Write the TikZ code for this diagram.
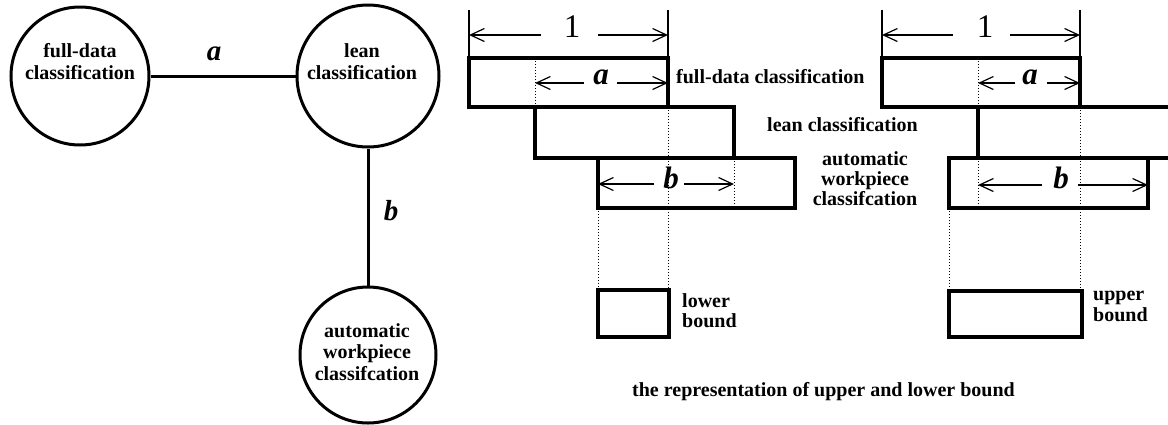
\documentclass[tikz,border=0pt]{standalone}
\usepackage{fontspec}
\setmainfont{Liberation Serif}
\usetikzlibrary{arrows.meta}
\begin{document}
\begin{tikzpicture}[x=1pt,y=-1pt,
  circ/.style={circle,draw,line width=3pt,inner sep=0pt},
  lbl/.style={font=\fontsize{20}{22}\selectfont\bfseries,align=center,inner sep=0pt},
  lbll/.style={font=\fontsize{20}{21}\selectfont\bfseries,align=left,inner sep=0pt},
  conn/.style={line width=3pt},
  bx/.style={line width=3.4pt,line join=miter},
  dots/.style={dotted,line width=1pt},
  tick/.style={line width=1.2pt},
  dim/.style={line width=1.2pt,-{Straight Barb[length=14pt,width=13pt,line width=1.2pt]}},
  varl/.style={font=\fontsize{29}{29}\selectfont\bfseries\itshape,inner sep=0pt},
  var/.style={font=\fontsize{31}{31}\selectfont\bfseries\itshape,inner sep=0pt},
  one/.style={font=\fontsize{33}{33}\selectfont,inner sep=0pt},
]
\useasboundingbox (0,0) rectangle (1168,424);

% ---------- left graph ----------
\node[circ,minimum size=138pt] (full) at (80,76) {};
\node[circ,minimum size=142pt] (lean) at (368,76) {};
\node[circ,minimum size=136pt] (auto) at (368,355) {};
\node[lbl,anchor=north] (fullT) at (80,43) {full-data\\classification};
\node[lbl,anchor=north] (leanT) at (362,43) {lean\\classification};
\node[lbl,anchor=north,font=\fontsize{20}{21.5}\selectfont\bfseries] (autoT) at (367,323) {automatic\\workpiece\\classifcation};
\draw[conn] (full.east) -- (lean.west);
\draw[conn] (lean.south) -- (auto.north);
\node[varl,anchor=base] (la) at (214,60) {a};
\node[varl,anchor=base] (lb) at (391,220) {b};

% ---------- right diagram 1 (lower bound) ----------
\draw[bx] (469,58) rectangle (668,107);
\draw[bx] (535,107) rectangle (734,158);
\draw[bx] (598,158) rectangle (795,208);
\draw[bx] (598,290) rectangle (669,337);
\draw[tick] (469,10) -- (469,58);
\draw[tick] (668,10) -- (668,58);
\node[one,anchor=base] (one1) at (572,37) {1};
\draw[dim] (541,35) -- (469,35);
\draw[dim] (598,35) -- (668,35);
\draw[dots] (535,58) -- (535,107);
\draw[dots] (668,107) -- (668,290);
\draw[dots] (734,158) -- (734,208);
\draw[dots] (598,208) -- (598,290);
\node[var,anchor=base] (a1) at (601,84) {a};
\draw[dim] (584,83) -- (535,83);
\draw[dim] (617,83) -- (668,83);
\node[var,anchor=base] (b1) at (671,188) {b};
\draw[dim] (654,184) -- (598,184);
\draw[dim] (684,184) -- (734,184);
\node[lbll,anchor=base west] (fdc) at (676,83) {full-data classification};
\node[lbll,anchor=base west] (lc) at (767,131) {lean classification};
\node[lbl,anchor=north,font=\fontsize{20}{20}\selectfont\bfseries] (awc) at (865,151) {automatic\\workpiece\\classifcation};
\node[lbll,anchor=north west,font=\fontsize{20}{20}\selectfont\bfseries] (lbd) at (682,293) {lower\\bound};

% ---------- right diagram 2 (upper bound) ----------
\draw[bx] (882,58) rectangle (1080,107);
\draw[bx] (1168,107) -- (978,107) -- (978,158) -- (1168,158);
\draw[bx] (949,158) rectangle (1148,208);
\draw[bx] (949,291) rectangle (1082,337);
\draw[tick] (882,10) -- (882,58);
\draw[tick] (1080,10) -- (1080,58);
\node[one,anchor=base] (one2) at (985,37) {1};
\draw[dim] (953,35) -- (882,35);
\draw[dim] (1010,35) -- (1080,35);
\draw[dots] (978,58) -- (978,107);
\draw[dots] (978,158) -- (978,208);
\draw[dots] (1080,107) -- (1080,291);
\draw[dots] (949,208) -- (949,291);
\node[var,anchor=base] (a2) at (1030,84) {a};
\draw[dim] (1015,83) -- (978,83);
\draw[dim] (1047,83) -- (1080,83);
\node[var,anchor=base] (b2) at (1061,188) {b};
\draw[dim] (1042,185) -- (978,185);
\draw[dim] (1078,185) -- (1148,185);
\node[lbll,anchor=north west,font=\fontsize{20}{21}\selectfont\bfseries] (ubd) at (1093,291) {upper\\bound};

\node[lbll,anchor=base west] (cap) at (632,396) {the representation of upper and lower bound};
\end{tikzpicture}
\end{document}
